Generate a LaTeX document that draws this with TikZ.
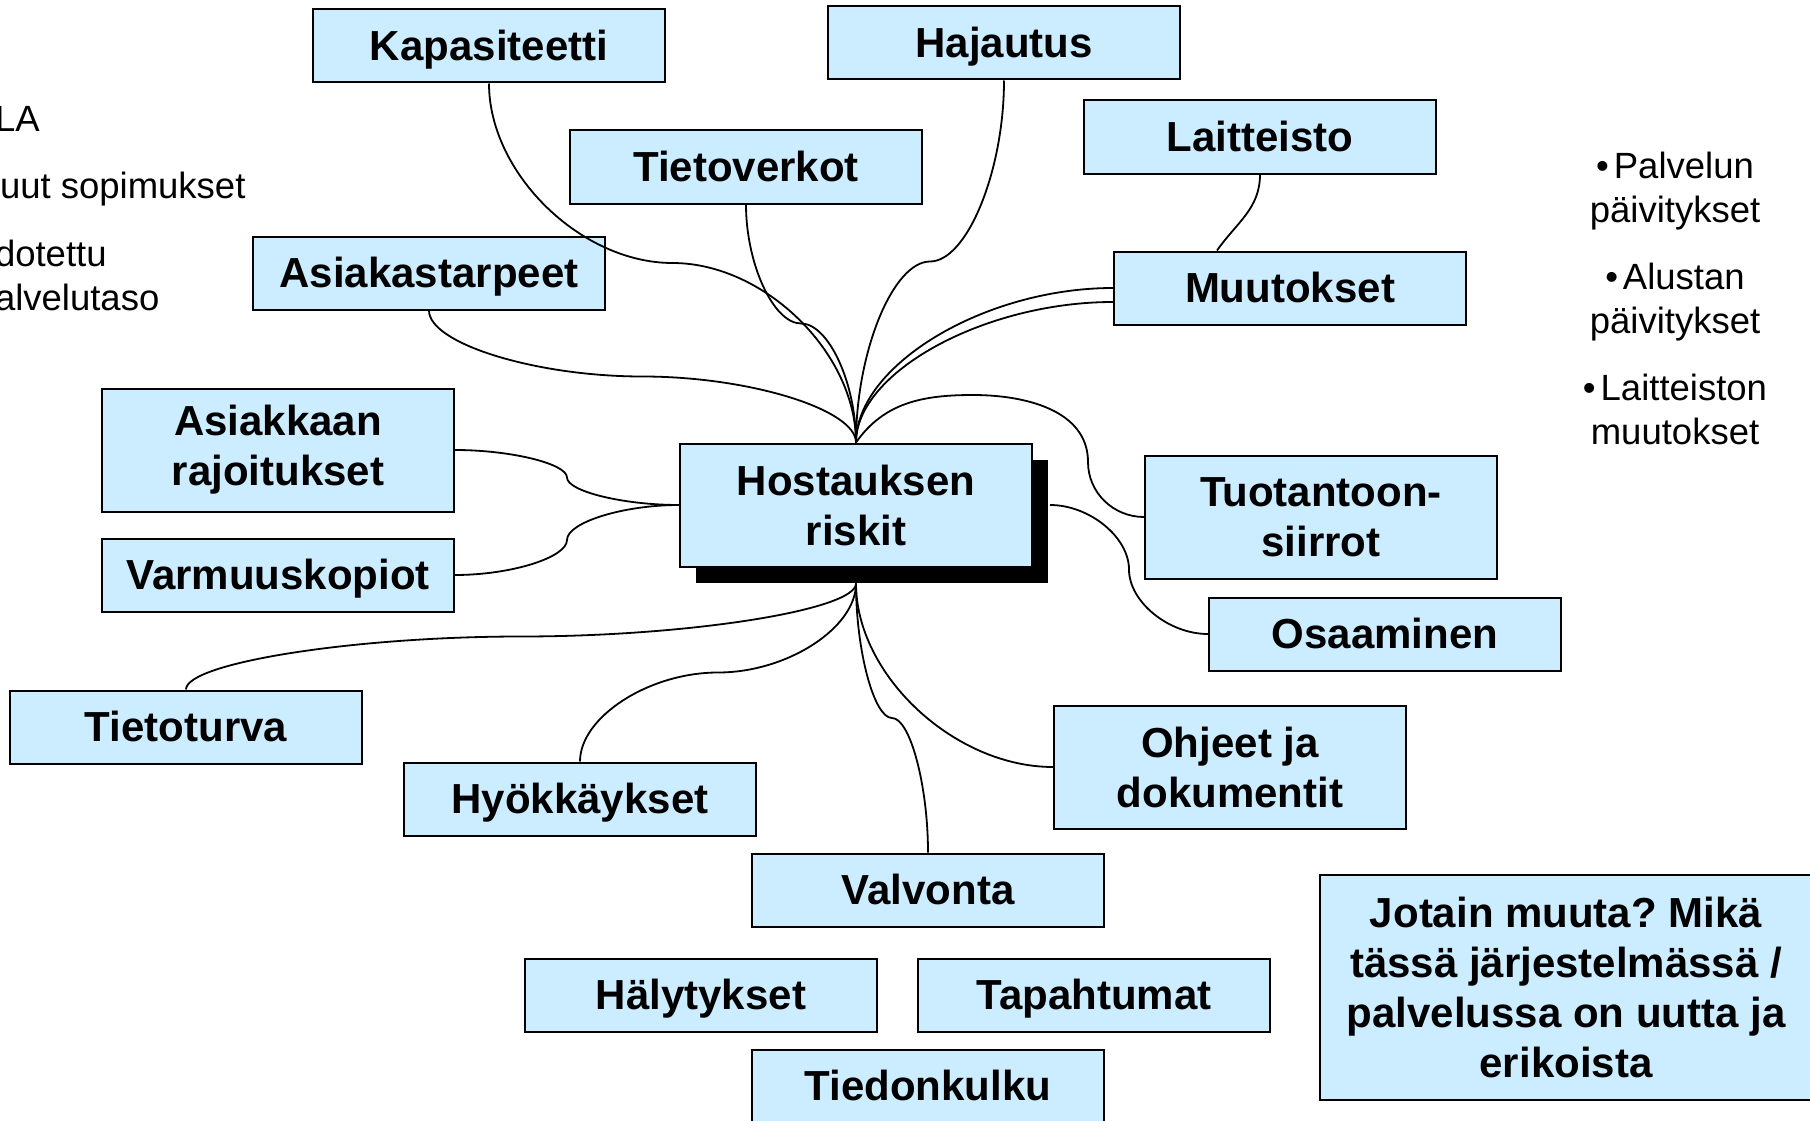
\documentclass[tikz,border=0pt]{standalone}
\usepackage{fontspec}
\setmainfont{Liberation Sans}
\usetikzlibrary{calc,shadows}
\definecolor{boxblue}{RGB}{204,236,255}
\frenchspacing

\begin{document}
\begin{tikzpicture}[
        x=1pt, y=1pt,
        line width=2pt,
        font=\fontsize{42}{50}\selectfont\bfseries
    ]
    \tikzset{
        topic/.style = {rectangle, draw=black, fill=boxblue, align=center, inner sep=0pt,
                        minimum width=352pt, minimum height=73pt, text height=38pt, text depth=9pt},
        topicb/.style = {rectangle, draw=black, fill=boxblue, align=center, inner sep=0pt,
                        minimum width=352pt, minimum height=123pt},
        note/.style = {align=left, inner sep=0pt, font=\fontsize{36.5}{44}\selectfont},
        edgec/.style = {-, line width=1.8pt},
        % curved connectors: vertical S, horizontal S, one bend
        vs/.style = {to path={let \p1=(\tikztostart), \p2=(\tikztotarget) in
            .. controls (\x1,{(3*\y1+\y2)/4}) and ({(3*\x1+\x2)/4},{(\y1+\y2)/2}) .. ({(\x1+\x2)/2},{(\y1+\y2)/2})
            .. controls ({(\x1+3*\x2)/4},{(\y1+\y2)/2}) and (\x2,{(\y1+3*\y2)/4}) .. (\tikztotarget)}},
        hs/.style = {to path={let \p1=(\tikztostart), \p2=(\tikztotarget) in
            .. controls ({(3*\x1+\x2)/4},\y1) and ({(\x1+\x2)/2},{(3*\y1+\y2)/4}) .. ({(\x1+\x2)/2},{(\y1+\y2)/2})
            .. controls ({(\x1+\x2)/2},{(\y1+3*\y2)/4}) and ({(\x1+3*\x2)/4},\y2) .. (\tikztotarget)}},
        hv/.style = {to path={let \p1=(\tikztostart), \p2=(\tikztotarget) in
            .. controls ({(\x1+\x2)/2},\y1) and (\x2,{(\y1+\y2)/2}) .. (\tikztotarget)}},
    }
    \path[use as bounding box, fill=white] (0,0) rectangle (1810,-1121);
    % cut-off text on the left
    \node[note, anchor=base west] (sla) at (-6,-132) {LA};
    \node[note, anchor=base west] (sop) at (-1,-198) {uut sopimukset};
    \node[note, anchor=base west] (odo) at (-6,-310) {dotettu\\alvelutaso};
    % notes on the right
    \node[note, align=center] (upd) at (1675,-298) {•\hspace{5pt}Palvelun\\päivitykset\\[23pt]•\hspace{5pt}Alustan\\päivitykset\\[23pt]•\hspace{5pt}Laitteiston\\muutokset};
    %
    \node[topicb, drop shadow={shadow xshift=16pt, shadow yshift=-16pt, fill=black, opacity=1}] at (856,-505) (hub) {Hostauksen\\riskit};
    \coordinate (hubs) at ([yshift=-16pt]hub.south);
    \coordinate (hube) at ([xshift=17pt]hub.east);
    %
    \node[topic] at (489,-46) (kap) {Kapasiteetti};
    \node[topic] at (1004,-43) (haj) {Hajautus};
    \node[topic] at (746,-167) (tiv) {Tietoverkot};
    \node[topic] at (1260,-137) (lai) {Laitteisto};
    \node[topic] at (429,-273) (ast) {Asiakastarpeet};
    \node[topic] at (1290,-288) (muu) {Muutokset};
    \node[topicb] at (278,-450) (ark) {Asiakkaan\\rajoitukset};
    \node[topic] at (278,-575) (var) {Varmuuskopiot};
    \node[topicb] at (1321,-517) (tuo) {Tuotantoon-\\siirrot};
    \node[topic] at (1385,-634) (osa) {Osaaminen};
    \node[topic] at (186,-727) (tit) {Tietoturva};
    \node[topicb] at (1230,-767) (ohj) {Ohjeet ja\\dokumentit};
    \node[topic] at (580,-799) (hyo) {Hyökkäykset};
    \node[topic] at (928,-890) (val) {Valvonta};
    \node[topic] at (701,-995) (hal) {Hälytykset};
    \node[topic] at (1094,-995) (tap) {Tapahtumat};
    \node[topic] at (928,-1086) (tie) {Tiedonkulku};
    \node[topicb, minimum width=492pt, minimum height=225pt] at (1566,-987) (jot) {Jotain muuta? Mikä\\tässä järjestelmässä /\\palvelussa on uutta ja\\erikoista};
    %
    \draw[edgec] (kap.south) to[vs] (hub.north);
    \draw[edgec] (tiv.south) to[vs] (hub.north);
    \draw[edgec] (ast.south) to[vs] (hub.north);
    \draw[edgec] (haj.south) to[vs] (hub.north);
    \draw[edgec] (muu.west) to[hv] (hub.north);
    \draw[edgec] ([yshift=-14pt]muu.west) to[hv] (hub.north);
    \draw[edgec] (lai.south) to[out=-90,in=55] ([xshift=-73pt]muu.north);
    \draw[edgec] (hub.north) to[out=55,in=180] (973,-395) to[out=0,in=90] (1088,-462) to[out=-90,in=180] (tuo.west);
    %
    \draw[edgec] (ark.east) to[hs] (hub.west);
    \draw[edgec] (var.east) to[hs] (hub.west);
    \draw[edgec] (hube) to[hs] (osa.west);
    %
    \draw[edgec] (tit.north) to[vs] (hubs);
    \draw[edgec] (hyo.north) to[vs] (hubs);
    \draw[edgec] (val.north) to[vs] (hubs);
    \draw[edgec] (ohj.west) to[hv] (hubs);
\end{tikzpicture}
\end{document}
